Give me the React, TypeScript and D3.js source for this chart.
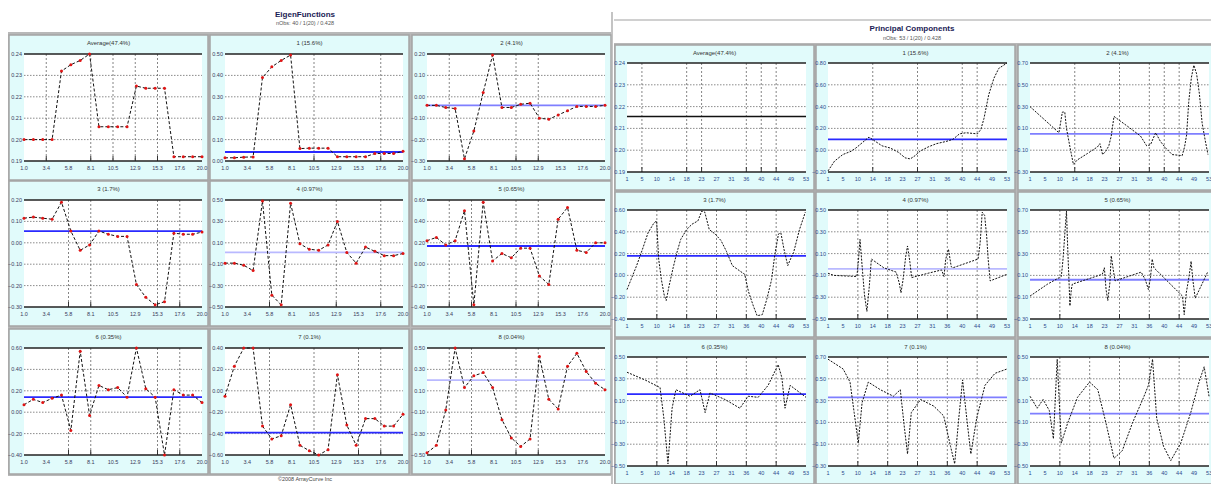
import React from "react";
import * as d3 from "d3";

// ---- data ----
const chartTitles = [
  "Average(47.4%)", "1 (15.6%)", "2 (4.1%)",
  "3 (1.7%)", "4 (0.97%)", "5 (0.65%)",
  "6 (0.35%)", "7 (0.1%)", "8 (0.04%)",
];

const eigenIndex = [1, 2, 3, 4, 5, 6, 7, 8, 9, 10, 11, 12, 13, 14, 15, 16, 17, 18, 19, 20];
const eigenTickLabels = ["1.0", "3.4", "5.8", "8.1", "10.5", "12.9", "15.3", "17.6", "20.0"];
const pcTickLabels = ["1", "5", "10", "14", "18", "23", "27", "31", "36", "40", "44", "49", "53"];

const eigAvg = [0.2, 0.2, 0.2, 0.2, 0.232, 0.235, 0.237, 0.24, 0.206, 0.206, 0.206, 0.206, 0.225, 0.224, 0.224, 0.224, 0.192, 0.192, 0.192, 0.192];
const eig1 = [0.015, 0.015, 0.018, 0.019, 0.39, 0.44, 0.47, 0.495, 0.058, 0.06, 0.06, 0.06, 0.02, 0.02, 0.02, 0.02, 0.035, 0.035, 0.035, 0.045];
const eig2 = [-0.04, -0.04, -0.05, -0.055, -0.29, -0.16, 0.02, 0.195, -0.05, -0.05, -0.035, -0.03, -0.1, -0.105, -0.085, -0.065, -0.045, -0.045, -0.045, -0.04];
const eig3 = [0.115, 0.12, 0.115, 0.11, 0.19, 0.055, -0.035, -0.01, 0.055, 0.04, 0.03, 0.03, -0.195, -0.255, -0.29, -0.275, 0.045, 0.04, 0.04, 0.05];
const eig4 = [-0.09, -0.09, -0.11, -0.16, 0.49, -0.39, -0.48, 0.47, 0.09, 0.04, 0.03, 0.08, 0.3, 0.01, -0.09, 0.06, 0.02, -0.02, -0.02, 0.0];
const eig5 = [0.22, 0.25, 0.18, 0.22, 0.5, -0.38, 0.58, 0.03, 0.1, 0.06, 0.15, 0.15, -0.11, -0.19, 0.42, 0.53, 0.13, 0.11, 0.2, 0.2];
const eig6 = [0.07, 0.12, 0.09, 0.13, 0.16, -0.17, 0.57, -0.03, 0.25, 0.21, 0.23, 0.14, 0.6, 0.22, 0.14, -0.4, 0.21, 0.16, 0.16, 0.09];
const eig7 = [-0.05, 0.23, 0.4, 0.4, -0.33, -0.45, -0.42, -0.13, -0.51, -0.56, -0.6, -0.55, 0.15, -0.32, -0.51, -0.26, -0.26, -0.33, -0.33, -0.22];
const eig8 = [-0.48, -0.41, -0.08, 0.5, 0.13, 0.24, 0.27, 0.13, -0.17, -0.34, -0.42, -0.35, 0.42, 0.02, -0.07, 0.33, 0.45, 0.28, 0.17, 0.11];

const eigDomains: [number, number][] = [[0.19, 0.24], [0, 0.5], [-0.3, 0.2], [-0.3, 0.2], [-0.5, 0.5], [-0.4, 0.6], [-0.4, 0.6], [-0.6, 0.4], [-0.5, 0.5]];
const eigRefs = [null, 0.042, -0.04, 0.055, 0.01, 0.17, 0.14, -0.39, 0.2];

const pcAvgX = [1, 53];
const pcAvgY = [0.2155, 0.2155];
const pc1X = [1, 2.9, 5.3, 7.7, 9.1, 11.0, 12.9, 14.8, 16.7, 19.1, 21.5, 23.4, 24.9, 26.3, 27.7, 30.1, 32.5, 35.3, 37.3, 39.2, 41.1, 44.4, 45.4, 46.3, 47.7, 49.2, 50.6, 53];
const pc1Y = [-0.19, -0.1, -0.04, -0.01, 0.02, 0.07, 0.12, 0.08, 0.04, 0.02, -0.02, -0.07, -0.08, -0.05, -0.01, 0.03, 0.06, 0.08, 0.1, 0.15, 0.16, 0.15, 0.19, 0.29, 0.51, 0.66, 0.75, 0.8];
const pc2X = [1, 9.4, 10.4, 11.1, 11.6, 12.6, 13.6, 14.7, 17.7, 20.6, 21.3, 22.1, 23.0, 23.9, 24.6, 25.4, 29.3, 33.1, 34.9, 36.0, 37.5, 38.9, 40.4, 42.3, 45.2, 45.9, 46.5, 47.1, 47.9, 48.6, 49.4, 50.2, 51.0, 51.9, 52.7];
const pc2Y = [0.3, 0.06, 0.25, 0.25, 0.1, -0.07, -0.23, -0.19, -0.13, -0.07, -0.04, -0.14, -0.11, -0.06, 0.03, 0.21, 0.12, 0.03, -0.06, -0.05, 0.06, -0.02, -0.08, -0.14, -0.15, -0.07, 0.04, 0.34, 0.57, 0.68, 0.6, 0.42, 0.15, -0.01, -0.14];
const pc3X = [1, 3.8, 5.5, 7.1, 8.8, 9.6, 10.2, 11.0, 11.8, 12.4, 13.2, 14.4, 15.5, 16.6, 18.3, 19.9, 21.6, 22.7, 23.6, 24.9, 26.6, 28.3, 29.9, 31.6, 33.8, 35.2, 36.3, 37.7, 38.8, 40.3, 41.6, 43.0, 43.9, 45.0, 45.7, 46.6, 47.7, 48.5, 49.4, 51.1, 52.8];
const pc3Y = [-0.13, 0.09, 0.24, 0.39, 0.48, 0.5, 0.15, -0.04, -0.18, -0.23, -0.1, 0.07, 0.21, 0.33, 0.42, 0.47, 0.5, 0.59, 0.58, 0.42, 0.38, 0.32, 0.22, 0.09, 0.04, 0.01, -0.15, -0.28, -0.37, -0.36, -0.22, -0.04, 0.18, 0.38, 0.39, 0.24, 0.09, 0.15, 0.21, 0.42, 0.58];
const pc4X = [1, 2.7, 9.4, 9.9, 10.3, 11.0, 11.6, 12.3, 13.0, 13.6, 17.2, 20.8, 21.7, 22.2, 22.8, 23.6, 24.1, 24.8, 25.3, 30.1, 34.0, 34.7, 35.2, 36.0, 36.8, 37.3, 44.6, 45.2, 45.8, 46.5, 47.1, 47.5, 48.1, 53];
const pc4Y = [-0.08, -0.1, -0.11, 0.06, 0.23, -0.05, -0.28, -0.43, -0.2, 0.05, -0.03, -0.07, -0.17, -0.26, -0.14, 0.08, 0.17, 0.02, -0.12, -0.08, -0.05, -0.11, 0.05, 0.14, -0.02, -0.03, 0.05, 0.2, 0.48, 0.45, 0.26, 0.06, -0.15, -0.09];
const pc5X = [1, 6.1, 10.1, 10.6, 11.2, 11.6, 11.9, 12.2, 12.6, 13.0, 13.3, 22.0, 22.6, 23.1, 23.6, 24.2, 24.6, 25.2, 25.7, 33.3, 34.5, 35.4, 36.0, 36.5, 37.0, 45.3, 45.8, 46.4, 47.2, 47.8, 48.3, 49.0, 52.6];
const pc5Y = [-0.09, 0.02, 0.09, 0.25, 0.52, 0.69, 0.4, 0.15, -0.18, -0.03, 0.02, 0.11, 0.17, -0.03, -0.13, 0.03, 0.28, 0.15, 0.05, 0.13, 0.06, -0.03, 0.08, 0.25, 0.17, -0.09, -0.26, -0.06, 0.09, 0.23, 0.06, -0.11, 0.13];
const pc6X = [1, 6.2, 10.6, 11.7, 12.9, 14.1, 15.2, 19.3, 22.2, 23.7, 25.1, 29.5, 33.8, 36.2, 39.1, 42.0, 44.9, 46.0, 46.9, 48.4, 53];
const pc6Y = [0.36, 0.29, 0.22, -0.06, -0.48, 0.03, 0.2, 0.14, 0.2, -0.01, 0.17, 0.11, 0.03, 0.14, 0.13, 0.24, 0.43, 0.31, 0.03, 0.24, 0.13];
const pc7X = [1, 5.4, 7.4, 8.6, 9.8, 10.9, 12.7, 16.2, 20.0, 22.0, 23.2, 24.1, 25.2, 27.9, 31.7, 34.6, 36.6, 37.8, 39.0, 40.1, 41.3, 42.5, 44.2, 46.6, 49.5, 53];
const pc7Y = [0.68, 0.59, 0.47, 0.19, -0.09, 0.28, 0.47, 0.4, 0.34, 0.4, 0.05, -0.19, 0.19, 0.31, 0.25, 0.16, -0.12, -0.28, 0.14, 0.49, 0.14, -0.19, 0.14, 0.44, 0.55, 0.59];
const pc8X = [1, 3.1, 4.8, 6.6, 7.8, 8.9, 10.1, 11.9, 14.8, 18.3, 20.7, 23.1, 25.4, 27.8, 30.7, 34.0, 35.4, 36.6, 37.8, 39.8, 41.9, 44.8, 47.7, 50.1, 51.6, 53];
const pc8Y = [0.14, 0.03, 0.11, 0.01, -0.25, 0.48, -0.29, -0.11, 0.13, 0.27, 0.2, -0.11, -0.43, -0.36, -0.11, 0.13, 0.24, 0.48, -0.06, -0.32, -0.45, -0.29, -0.01, 0.27, 0.41, 0.14];

const pcDomains: [number, number][] = [[0.19, 0.24], [-0.2, 0.8], [-0.3, 0.7], [-0.4, 0.6], [-0.5, 0.5], [-0.3, 0.7], [-0.5, 0.5], [-0.3, 0.7], [-0.5, 0.5]];
const pcRefs = [null, 0.1, 0.05, 0.18, -0.04, 0.06, 0.16, 0.33, -0.02];

// ---- styling ----
const FONT = "'Liberation Sans', Arial, sans-serif";
const BLUE = "#2a2aff";
const MID = "#7f7fff";
const LIGHT = "#b9b9ff";
const eigRefColors = [BLUE, BLUE, MID, BLUE, LIGHT, BLUE, BLUE, BLUE, LIGHT];
const pcRefColors = [BLUE, BLUE, MID, BLUE, LIGHT, MID, BLUE, MID, MID];
// which vertical grid lines show up in each small plot
const eigGrid = [[1, 3, 4, 5, 6], [4, 7], [1, 4, 5], [2, 3, 6, 7], [2, 5, 7], [1, 2, 4, 5], [2, 3, 6, 7], [2, 4, 6, 7], [1, 2, 4, 5]];
const pcGrid = [[1, 4, 5, 8, 9, 10], [3, 6, 9, 10], [3, 6, 8, 9, 10], [2, 4, 6, 8, 10], [2, 4, 6, 8, 10], [2, 6, 8, 10], [2, 4, 6, 8, 10], [2, 4, 6, 8, 10], [2, 4, 6, 8, 10]];

type MiniProps = {
  x: number; y: number; w: number; h: number;
  title: string;
  xs: number[]; ys: number[];
  domain: [number, number];
  xDomain: [number, number];
  xLabels: string[];
  refValue: number | null;
  refColor: string;
  grid: number[];
  markers: boolean;
  padL: number; padR: number; padT: number; plotH: number;
  labelColor: string;
  dash: string;
  lineWidth: number;
};

const Mini = (p: MiniProps) => {
  const x0 = p.x + p.padL;
  const x1 = p.x + p.w - p.padR;
  const y0 = p.y + p.padT;
  const y1 = y0 + p.plotH;
  const xs = d3.scaleLinear().domain(p.xDomain).range([x0, x1]);
  const ys = d3.scaleLinear().domain(p.domain).range([y1, y0]);
  const n = p.xLabels.length - 1;
  const xTicks = p.xLabels.map((_, i) => p.xDomain[0] + (i * (p.xDomain[1] - p.xDomain[0])) / n);
  const yTicks = d3.range(6).map((i) => p.domain[0] + (i * (p.domain[1] - p.domain[0])) / 5);
  const pts = p.xs.map((v, i) => [v, p.ys[i]] as [number, number]);
  const line = d3.line<[number, number]>().x((d) => xs(d[0])).y((d) => ys(d[1]));
  const fmt = d3.format(".2f");

  return (
    <g>
      <rect x={p.x} y={p.y} width={p.w} height={p.h} fill="#e1fbfb" stroke="#a4a4a4" strokeWidth={1.5} />
      <text x={p.x + p.w / 2} y={p.y + 10} textAnchor="middle" fontSize={6} fill="#333">{p.title}</text>
      <rect x={x0} y={y0} width={x1 - x0} height={y1 - y0} fill="#fff" />
      {yTicks.slice(1, 5).map((t, i) => (
        <line key={"h" + i} x1={x0} x2={x1} y1={ys(t)} y2={ys(t)} stroke="#6e6e6e" strokeWidth={0.8} strokeDasharray="1.5,1.5" />
      ))}
      {p.grid.map((gi) => (
        <g key={"v" + gi}>
          <line x1={xs(xTicks[gi])} x2={xs(xTicks[gi])} y1={y0} y2={y1} stroke="#666" strokeWidth={0.8} strokeDasharray="2,2" />
          <line x1={xs(xTicks[gi])} x2={xs(xTicks[gi])} y1={y1 - 5} y2={y1} stroke="#333" strokeWidth={1} />
        </g>
      ))}
      <line x1={x0} x2={x1} y1={y0} y2={y0} stroke="#222" strokeWidth={1.6} />
      <line x1={x0} x2={x1} y1={y1} y2={y1} stroke="#222" strokeWidth={1.6} />
      {p.refValue !== null && (
        <line x1={x0} x2={x1} y1={ys(p.refValue)} y2={ys(p.refValue)} stroke={p.refColor} strokeWidth={1.8} />
      )}
      <path d={line(pts) || ""} fill="none" stroke="#111" strokeWidth={p.lineWidth} strokeDasharray={p.dash} />
      {p.markers && pts.map((d, i) => (
        <circle key={"m" + i} cx={xs(d[0])} cy={ys(d[1])} r={1.5} fill="#e01414" />
      ))}
      {yTicks.map((t, i) => (
        <text key={"yl" + i} x={x0 - 2} y={ys(t) + 2} textAnchor="end" fontSize={5.5} fill={p.labelColor}>{fmt(t)}</text>
      ))}
      {p.xLabels.map((l, i) => (
        <text key={"xl" + i} x={xs(xTicks[i])} y={y1 + 9} textAnchor="middle" fontSize={5.5} fill={p.labelColor}>{l}</text>
      ))}
    </g>
  );
};

const App = () => {
  const eigSeries = [eigAvg, eig1, eig2, eig3, eig4, eig5, eig6, eig7, eig8];
  const pcX = [pcAvgX, pc1X, pc2X, pc3X, pc4X, pc5X, pc6X, pc7X, pc8X];
  const pcY = [pcAvgY, pc1Y, pc2Y, pc3Y, pc4Y, pc5Y, pc6Y, pc7Y, pc8Y];

  const leftCols = [9, 210, 412];
  const leftRows = [35, 181, 329];
  const rightCols = [615, 816, 1018];
  const rightRows = [45, 192, 339];

  return (
    <svg width={1211} height={484} style={{ position: "absolute", left: 0, top: 0, fontFamily: FONT }}>
      <rect width={1211} height={484} fill="#fff" />

      {/* left panel */}
      <text x={305} y={17} textAnchor="middle" fontSize={8} fontWeight="bold" fill="#1b1b55">EigenFunctions</text>
      <text x={305} y={25} textAnchor="middle" fontSize={5.5} fill="#555">nObs: 40 / 1(20) / 0.428</text>
      <rect x={8} y={32} width={603} height={444} fill="#b8b8b8" />
      {eigSeries.map((s, i) => (
        <Mini
          key={"e" + i}
          x={leftCols[i % 3]} y={leftRows[Math.floor(i / 3)]} w={199} h={145}
          title={chartTitles[i]}
          xs={eigenIndex} ys={s}
          domain={eigDomains[i]}
          xDomain={[1, 20]}
          xLabels={eigenTickLabels}
          refValue={eigRefs[i]}
          refColor={eigRefColors[i]}
          grid={eigGrid[i]}
          markers={true}
          padL={15} padR={6} padT={19} plotH={107}
          labelColor="#3a3a5a"
          dash="3,2"
          lineWidth={1}
        />
      ))}
      <text x={305} y={481} textAnchor="middle" fontSize={5.5} fill="#444">©2008 ArrayCurve Inc</text>

      {/* right panel */}
      <line x1={612} x2={612} y1={12} y2={484} stroke="#b0b0b0" strokeWidth={1.5} />
      <line x1={614} x2={1211} y1={20} y2={20} stroke="#d0d0d0" strokeWidth={2} />
      <text x={912} y={31} textAnchor="middle" fontSize={8} fontWeight="bold" fill="#1b1b55">Principal Components</text>
      <text x={912} y={40} textAnchor="middle" fontSize={5.5} fill="#555">nObs: 53 / 1(20) / 0.428</text>
      <rect x={614} y={43} width={600} height={445} fill="#b8b8b8" />
      {pcY.map((s, i) => (
        <Mini
          key={"p" + i}
          x={rightCols[i % 3]} y={rightRows[Math.floor(i / 3)]} w={199} h={145}
          title={chartTitles[i]}
          xs={pcX[i]} ys={s}
          domain={pcDomains[i]}
          xDomain={[1, 53]}
          xLabels={pcTickLabels}
          refValue={pcRefs[i]}
          refColor={pcRefColors[i]}
          grid={pcGrid[i]}
          markers={false}
          padL={12} padR={8} padT={18} plotH={109}
          labelColor="#2d4a8c"
          dash={i === 0 ? "none" : "2,1.3"}
          lineWidth={i === 0 ? 1.5 : 1}
        />
      ))}
    </svg>
  );
};

export default App;
